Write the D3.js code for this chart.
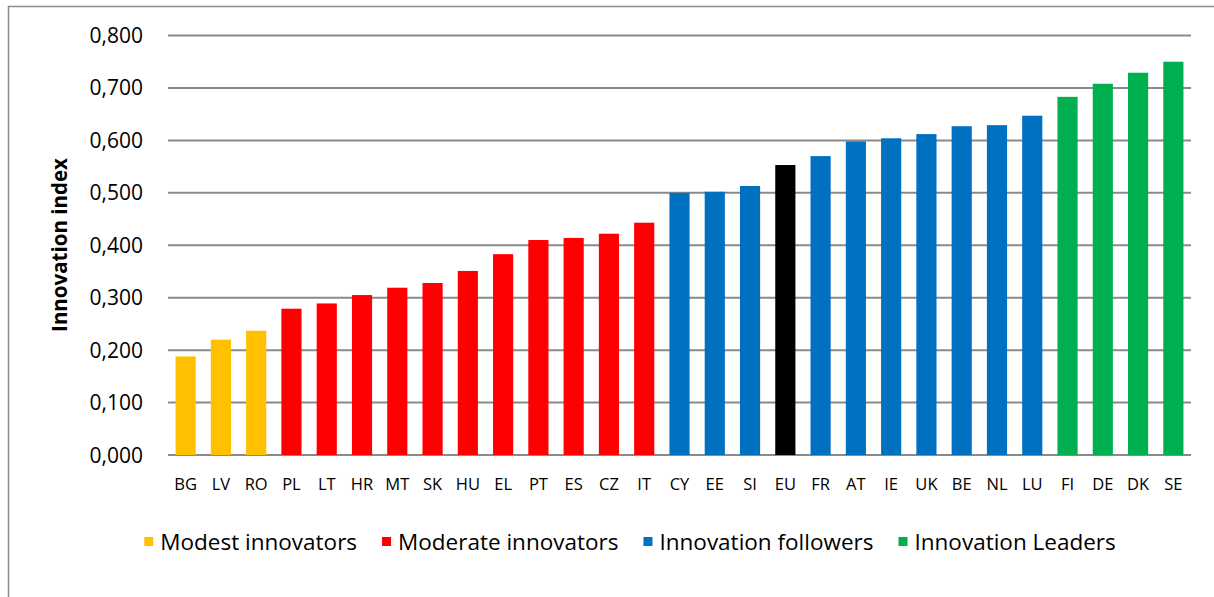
<!DOCTYPE html>
<html>
<head>
<meta charset="utf-8">
<script src="https://cdn.jsdelivr.net/npm/d3@7"></script>
<style>
  body { margin: 0; background: #fff; }
  text { font-family: "Open Sans", sans-serif; fill: #000; }
</style>
</head>
<body>
<svg id="chart" width="1214" height="597"></svg>
<script>
const countries = ['BG','LV','RO','PL','LT','HR','MT','SK','HU','EL','PT','ES','CZ','IT','CY','EE','SI','EU','FR','AT','IE','UK','BE','NL','LU','FI','DE','DK','SE'];
const values = [0.188,0.220,0.237,0.279,0.289,0.305,0.319,0.328,0.351,0.383,0.410,0.414,0.422,0.443,0.500,0.502,0.513,0.553,0.570,0.598,0.604,0.612,0.627,0.629,0.647,0.683,0.708,0.729,0.750];
const groups = ['Modest','Modest','Modest','Moderate','Moderate','Moderate','Moderate','Moderate','Moderate','Moderate','Moderate','Moderate','Moderate','Moderate','Follower','Follower','Follower','EU','Follower','Follower','Follower','Follower','Follower','Follower','Follower','Leader','Leader','Leader','Leader'];
const legendKeys = ['Modest','Moderate','Follower','Leader'];
const legendLabels = ['Modest innovators','Moderate innovators','Innovation followers','Innovation Leaders'];
const yTicks = [0,0.1,0.2,0.3,0.4,0.5,0.6,0.7,0.8];

const colour = d3.scaleOrdinal()
    .domain(['Modest','Moderate','Follower','EU','Leader'])
    .range(['#FFC000','#FF0000','#0070C0','#000000','#00B050']);

const svg = d3.select('#chart');
const plotLeft = 168, plotRight = 1191, plotTop = 35.5, plotBottom = 455;

// frame
svg.append('path')
    .attr('d', `M8.5,597 V6.5 H1214`)
    .attr('fill', 'none')
    .attr('stroke', '#8c8c8c')
    .attr('stroke-width', 1.5);

const x = d3.scaleBand().domain(countries).range([plotLeft, plotRight])
    .paddingInner(0.4286).paddingOuter(0.2143);
const y = d3.scaleLinear().domain([0, 0.8]).range([plotBottom, plotTop]);

const fmt = v => d3.format('.3f')(v).replace('.', ',');

// grid
svg.append('g').selectAll('line')
    .data(yTicks)
    .enter().append('line')
    .attr('x1', plotLeft).attr('x2', plotRight)
    .attr('y1', d => y(d)).attr('y2', d => y(d))
    .attr('stroke', '#8a8a8a')
    .attr('stroke-width', 2);

// y labels
svg.append('g').selectAll('text')
    .data(yTicks)
    .enter().append('text')
    .attr('x', 143)
    .attr('y', d => y(d))
    .attr('dy', '0.36em')
    .attr('text-anchor', 'end')
    .style('font-size', '21px')
    .text(fmt);

// bars
svg.append('g').selectAll('rect')
    .data(countries)
    .enter().append('rect')
    .attr('x', d => x(d))
    .attr('width', x.bandwidth())
    .attr('y', (d, i) => y(values[i]))
    .attr('height', (d, i) => y(0) - y(values[i]))
    .attr('fill', (d, i) => colour(groups[i]));

// x labels
svg.append('g').selectAll('text')
    .data(countries)
    .enter().append('text')
    .attr('x', d => x(d) + x.bandwidth() / 2)
    .attr('y', 490)
    .attr('text-anchor', 'middle')
    .style('font-size', '16.5px')
    .text(d => d);

// axis title
svg.append('text')
    .attr('transform', 'translate(67,245) rotate(-90)')
    .attr('text-anchor', 'middle')
    .style('font-size', '20.5px')
    .style('font-weight', 'bold')
    .text('Innovation index');

// legend
const legend = svg.append('g');
const items = legend.selectAll('g')
    .data(legendKeys)
    .enter().append('g');
items.append('rect')
    .attr('width', 9).attr('height', 9)
    .attr('y', 537)
    .attr('fill', d => colour(d));
items.append('text')
    .attr('x', 16)
    .attr('y', 550)
    .style('font-size', '22.5px')
    .text((d, i) => legendLabels[i]);

let offs = [], total = 0;
items.each(function() {
    const w = 16 + this.querySelector('text').getComputedTextLength();
    offs.push(total);
    total += w + 25;
});
total -= 25;
const start = 630 - total / 2;
items.attr('transform', (d, i) => `translate(${start + offs[i]},0)`);
</script>
</body>
</html>
